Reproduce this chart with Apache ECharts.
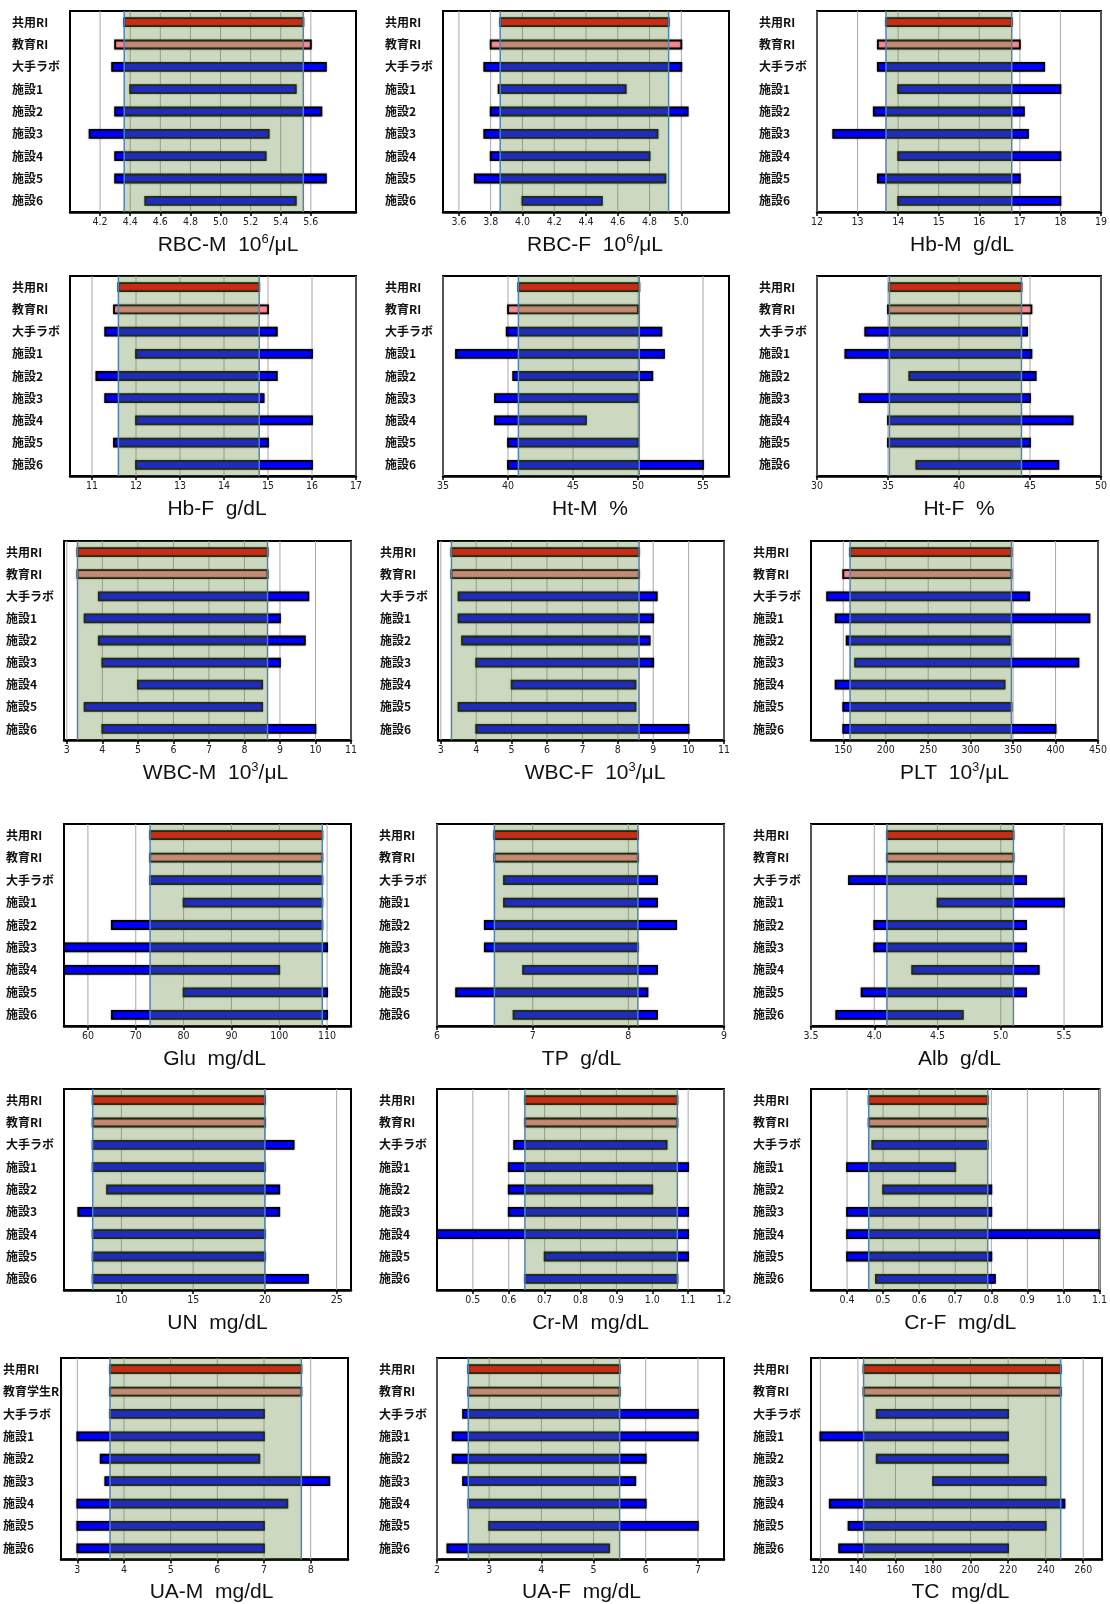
<!DOCTYPE html>
<html>
<head>
<meta charset="utf-8">
<script src="https://cdn.jsdelivr.net/npm/echarts@6/dist/echarts.min.js"></script>
<style>
html,body{margin:0;padding:0;background:#fff;}
#chart{width:1110px;height:1604px;}
</style>
</head>
<body>
<div id="chart"></div>
<script>
// ---- categories ----
const cats = ['共用RI','教育RI','大手ラボ','施設1','施設2','施設3','施設4','施設5','施設6'];
const catsUA = ['共用RI','教育学生RI','大手ラボ','施設1','施設2','施設3','施設4','施設5','施設6'];

// ---- ranges (low / high) per category ----
const rbcM_lo = [4.36, 4.3, 4.28, 4.4, 4.3, 4.13, 4.3, 4.3, 4.5];
const rbcM_hi = [5.55, 5.6, 5.7, 5.5, 5.67, 5.32, 5.3, 5.7, 5.5];
const rbcF_lo = [3.86, 3.8, 3.76, 3.85, 3.8, 3.76, 3.8, 3.7, 4.0];
const rbcF_hi = [4.92, 5.0, 5.0, 4.65, 5.04, 4.85, 4.8, 4.9, 4.5];
const hbM_lo = [13.7, 13.5, 13.5, 14, 13.4, 12.4, 14, 13.5, 14];
const hbM_hi = [16.8, 17.0, 17.6, 18, 17.1, 17.2, 18, 17.0, 18];
const hbF_lo = [11.6, 11.5, 11.3, 12, 11.1, 11.3, 12, 11.5, 12];
const hbF_hi = [14.8, 15.0, 15.2, 16, 15.2, 14.9, 16, 15.0, 16];
const htM_lo = [40.8, 40, 39.9, 36, 40.4, 39, 39, 40, 40];
const htM_hi = [50.1, 50, 51.8, 52, 51.1, 50, 46, 50, 55];
const htF_lo = [35.1, 35, 33.4, 32, 36.5, 33, 35, 35, 37];
const htF_hi = [44.4, 45.1, 44.8, 45.1, 45.4, 45, 48, 45, 47];
const wbcM_lo = [3.3, 3.3, 3.9, 3.5, 3.9, 4.0, 5.0, 3.5, 4.0];
const wbcM_hi = [8.65, 8.65, 9.8, 9.0, 9.7, 9.0, 8.5, 8.5, 10.0];
const wbcF_lo = [3.3, 3.3, 3.5, 3.5, 3.6, 4.0, 5.0, 3.5, 4.0];
const wbcF_hi = [8.6, 8.6, 9.1, 9.0, 8.9, 9.0, 8.5, 8.5, 10.0];
const plt_lo = [158, 150, 131, 141, 154, 164, 141, 150, 150];
const plt_hi = [348, 348, 369, 440, 347, 427, 340, 348, 400];
const glu_lo = [73, 73, 73, 80, 65, 55, 55, 80, 65];
const glu_hi = [109, 109, 109, 109, 109, 110, 100, 110, 110];
const tp_lo = [6.6, 6.6, 6.7, 6.7, 6.5, 6.5, 6.9, 6.2, 6.8];
const tp_hi = [8.1, 8.1, 8.3, 8.3, 8.5, 8.1, 8.3, 8.2, 8.3];
const alb_lo = [4.1, 4.1, 3.8, 4.5, 4.0, 4.0, 4.3, 3.9, 3.7];
const alb_hi = [5.1, 5.1, 5.2, 5.5, 5.2, 5.2, 5.3, 5.2, 4.7];
const un_lo = [8, 8, 8, 8, 9, 7, 8, 8, 8];
const un_hi = [20, 20, 22, 20, 21, 21, 20, 20, 23];
const crM_lo = [0.645, 0.645, 0.615, 0.6, 0.6, 0.6, 0.4, 0.7, 0.645];
const crM_hi = [1.07, 1.07, 1.04, 1.1, 1.0, 1.1, 1.1, 1.1, 1.07];
const crF_lo = [0.46, 0.46, 0.47, 0.4, 0.5, 0.4, 0.4, 0.4, 0.48];
const crF_hi = [0.79, 0.79, 0.79, 0.7, 0.8, 0.8, 1.1, 0.8, 0.81];
const uaM_lo = [3.7, 3.7, 3.7, 3.0, 3.5, 3.6, 3.0, 3.0, 3.0];
const uaM_hi = [7.8, 7.8, 7.0, 7.0, 6.9, 8.4, 7.5, 7.0, 7.0];
const uaF_lo = [2.6, 2.6, 2.5, 2.3, 2.3, 2.5, 2.6, 3.0, 2.2];
const uaF_hi = [5.5, 5.5, 7.0, 7.0, 6.0, 5.8, 6.0, 7.0, 5.3];
const tc_lo = [143, 143, 150, 120, 150, 180, 125, 135, 130];
const tc_hi = [248, 248, 220, 220, 220, 240, 250, 240, 220];

// ---- tick labels ----
const rbcM_ticks = [4.2, 4.4, 4.6, 4.8, 5.0, 5.2, 5.4, 5.6];
const rbcF_ticks = [3.6, 3.8, 4.0, 4.2, 4.4, 4.6, 4.8, 5.0];
const hbM_ticks = [12, 13, 14, 15, 16, 17, 18, 19];
const hbF_ticks = [11, 12, 13, 14, 15, 16, 17];
const htM_ticks = [35, 40, 45, 50, 55];
const htF_ticks = [30, 35, 40, 45, 50];
const wbcM_ticks = [3, 4, 5, 6, 7, 8, 9, 10, 11];
const wbcF_ticks = [3, 4, 5, 6, 7, 8, 9, 10, 11];
const plt_ticks = [150, 200, 250, 300, 350, 400, 450];
const glu_ticks = [60, 70, 80, 90, 100, 110];
const tp_ticks = [6, 7, 8, 9];
const alb_ticks = [3.5, 4.0, 4.5, 5.0, 5.5];
const un_ticks = [10, 15, 20, 25];
const crM_ticks = [0.5, 0.6, 0.7, 0.8, 0.9, 1.0, 1.1, 1.2];
const crF_ticks = [0.4, 0.5, 0.6, 0.7, 0.8, 0.9, 1.0, 1.1];
const uaM_ticks = [3, 4, 5, 6, 7, 8];
const uaF_ticks = [2, 3, 4, 5, 6, 7];
const tc_ticks = [120, 140, 160, 180, 200, 220, 240, 260];

// ---- axis titles: [main, superscript, rest] ----
const titles = [
  ['RBC-M  10','6','/μL'], ['RBC-F  10','6','/μL'], ['Hb-M  g/dL','',''],
  ['Hb-F  g/dL','',''], ['Ht-M  %','',''], ['Ht-F  %','',''],
  ['WBC-M  10','3','/μL'], ['WBC-F  10','3','/μL'], ['PLT  10','3','/μL'],
  ['Glu  mg/dL','',''], ['TP  g/dL','',''], ['Alb  g/dL','',''],
  ['UN  mg/dL','',''], ['Cr-M  mg/dL','',''], ['Cr-F  mg/dL','',''],
  ['UA-M  mg/dL','',''], ['UA-F  mg/dL','',''], ['TC  mg/dL','','']
];

// ---- panel layout ----
const panels = [
  {lo: rbcM_lo, hi: rbcM_hi, ticks: rbcM_ticks, min: 4.0, max: 5.9, dec: 1, left: 70, top: 11, w: 286, h: 201, dx: 15},
  {lo: rbcF_lo, hi: rbcF_hi, ticks: rbcF_ticks, min: 3.5, max: 5.3, dec: 1, left: 443, top: 11, w: 286, h: 201, dx: 9},
  {lo: hbM_lo, hi: hbM_hi, ticks: hbM_ticks, min: 12, max: 19, dec: 0, left: 817, top: 11, w: 286, h: 201, dx: 3},
  {lo: hbF_lo, hi: hbF_hi, ticks: hbF_ticks, min: 10.5, max: 17, dec: 0, left: 70, top: 276, w: 286, h: 200, dx: 4},
  {lo: htM_lo, hi: htM_hi, ticks: htM_ticks, min: 35, max: 57, dec: 0, left: 443, top: 276, w: 286, h: 200, dx: 4},
  {lo: htF_lo, hi: htF_hi, ticks: htF_ticks, min: 30, max: 50, dec: 0, left: 817, top: 276, w: 286, h: 200, dx: 0},
  {lo: wbcM_lo, hi: wbcM_hi, ticks: wbcM_ticks, min: 2.92, max: 11, dec: 0, left: 64, top: 541, w: 287, h: 199, dx: 8},
  {lo: wbcF_lo, hi: wbcF_hi, ticks: wbcF_ticks, min: 2.92, max: 11, dec: 0, left: 438, top: 541, w: 286, h: 199, dx: 14},
  {lo: plt_lo, hi: plt_hi, ticks: plt_ticks, min: 112, max: 450, dec: 0, left: 811, top: 541, w: 288, h: 199, dx: 0},
  {lo: glu_lo, hi: glu_hi, ticks: glu_ticks, min: 55, max: 115, dec: 0, left: 64, top: 824, w: 287, h: 202, dx: 7},
  {lo: tp_lo, hi: tp_hi, ticks: tp_ticks, min: 6, max: 9, dec: 0, left: 437, top: 824, w: 287, h: 202, dx: 1},
  {lo: alb_lo, hi: alb_hi, ticks: alb_ticks, min: 3.5, max: 5.8, dec: 1, left: 811, top: 824, w: 291, h: 202, dx: 3},
  {lo: un_lo, hi: un_hi, ticks: un_ticks, min: 6, max: 26, dec: 0, left: 64, top: 1089, w: 287, h: 201, dx: 10},
  {lo: crM_lo, hi: crM_hi, ticks: crM_ticks, min: 0.4, max: 1.2, dec: 1, left: 437, top: 1089, w: 287, h: 201, dx: 10},
  {lo: crF_lo, hi: crF_hi, ticks: crF_ticks, min: 0.3, max: 1.1, dec: 1, left: 811, top: 1089, w: 291, h: 201, dx: 5},
  {lo: uaM_lo, hi: uaM_hi, ticks: uaM_ticks, min: 2.65, max: 8.8, dec: 0, left: 61, top: 1358, w: 287, h: 202, dx: 7, cats: catsUA},
  {lo: uaF_lo, hi: uaF_hi, ticks: uaF_ticks, min: 2, max: 7.5, dec: 0, left: 437, top: 1358, w: 287, h: 202, dx: 1},
  {lo: tc_lo, hi: tc_hi, ticks: tc_ticks, min: 115, max: 270, dec: 0, left: 811, top: 1358, w: 291, h: 202, dx: 4}
];

const barColors = ['#ff0000', '#f88a90', '#0000ff'];
const tickFont = '"Liberation Sans Narrow","DejaVu Sans Condensed","Liberation Sans",sans-serif';
const titleFont = '"Liberation Sans",Arial,sans-serif';
const grids = [], xAxes = [], yAxes = [], series = [];

panels.forEach((p, i) => {
  const t = titles[i];
  grids.push({left: p.left, top: p.top, width: p.w, height: p.h, show: true,
    borderColor: '#000', borderWidth: 2, backgroundColor: 'transparent'});
  const nm = t[1] ? ('{a|' + t[0] + '}{s|' + t[1] + '}{a|' + t[2] + '}') : ('{a|' + t[0] + '}');
  xAxes.push({
    type: 'value', gridIndex: i, min: p.min, max: p.max,
    splitLine: {show: false},
    axisLine: {show: true, lineStyle: {color: '#000', width: 2.5}},
    axisTick: {show: true, customValues: p.ticks, length: 4, lineStyle: {color: '#000', width: 1.5}},
    axisLabel: {customValues: p.ticks, margin: 5, fontSize: 10.5, color: '#222', fontFamily: tickFont,
      formatter: v => Number(v).toFixed(p.dec)},
    name: nm, nameLocation: 'middle', nameGap: 21,
    nameTextStyle: {
      padding: [0, 0, 0, 2 * p.dx],
      rich: {
        a: {fontSize: 21, color: '#111', fontFamily: titleFont, lineHeight: 24},
        s: {fontSize: 13, color: '#111', fontFamily: titleFont, verticalAlign: 'top', lineHeight: 24, padding: [0, 0, 9, 0]}
      }
    }
  });
  yAxes.push({
    type: 'category', gridIndex: i, data: p.cats || cats, inverse: true,
    axisLine: {show: false}, axisTick: {show: false}, splitLine: {show: false},
    axisLabel: {align: 'left', margin: 58, fontSize: 12, color: '#111', fontWeight: 'bold',
      fontFamily: '"Noto Sans CJK JP",sans-serif'}
  });
  // vertical grid lines
  series.push({
    type: 'custom', xAxisIndex: i, yAxisIndex: i, z: 1, silent: true,
    data: p.ticks.map(v => [v, 0]), encode: {x: 0, y: 1},
    renderItem: (params, api) => {
      const cs = params.coordSys;
      const x = api.coord([api.value(0), 0])[0];
      return {type: 'line', shape: {x1: x, y1: cs.y, x2: x, y2: cs.y + cs.height},
        style: {stroke: '#a8a8a8', lineWidth: 1}};
    }
  });
  // range bars
  series.push({
    type: 'custom', xAxisIndex: i, yAxisIndex: i, z: 2, silent: true, clip: true,
    data: p.lo.map((lo, k) => [lo, p.hi[k], k]), encode: {x: [0, 1], y: 2},
    renderItem: (params, api) => {
      const k = api.value(2);
      const a = api.coord([api.value(0), k]);
      const b = api.coord([api.value(1), k]);
      const h = 8;
      return {type: 'rect', shape: {x: a[0], y: a[1] - h / 2, width: b[0] - a[0], height: h},
        style: {fill: barColors[Math.min(k, 2)], stroke: '#000', lineWidth: 1.8,
          shadowBlur: 2, shadowColor: 'rgba(0,0,0,0.35)'}};
    }
  });
  // reference-interval band (from 共用RI), drawn semi-transparent over the bars
  series.push({
    type: 'custom', xAxisIndex: i, yAxisIndex: i, z: 3, silent: true,
    data: [[p.lo[0], p.hi[0], 0]], encode: {x: [0, 1], y: 2},
    renderItem: (params, api) => {
      const cs = params.coordSys;
      const x0 = api.coord([api.value(0), 0])[0];
      const x1 = api.coord([api.value(1), 0])[0];
      return {type: 'group', children: [
        {type: 'rect', shape: {x: x0, y: cs.y, width: x1 - x0, height: cs.height},
          style: {fill: 'rgba(97,137,59,0.32)'}},
        {type: 'line', shape: {x1: x0, y1: cs.y, x2: x0, y2: cs.y + cs.height},
          style: {stroke: '#5282b0', lineWidth: 1.5}},
        {type: 'line', shape: {x1: x1, y1: cs.y, x2: x1, y2: cs.y + cs.height},
          style: {stroke: '#5282b0', lineWidth: 1.5}}
      ]};
    }
  });
});

const chart = echarts.init(document.getElementById('chart'), null, {renderer: 'canvas'});
chart.setOption({
  animation: false,
  backgroundColor: '#fff',
  grid: grids, xAxis: xAxes, yAxis: yAxes, series: series
});
</script>
</body>
</html>
